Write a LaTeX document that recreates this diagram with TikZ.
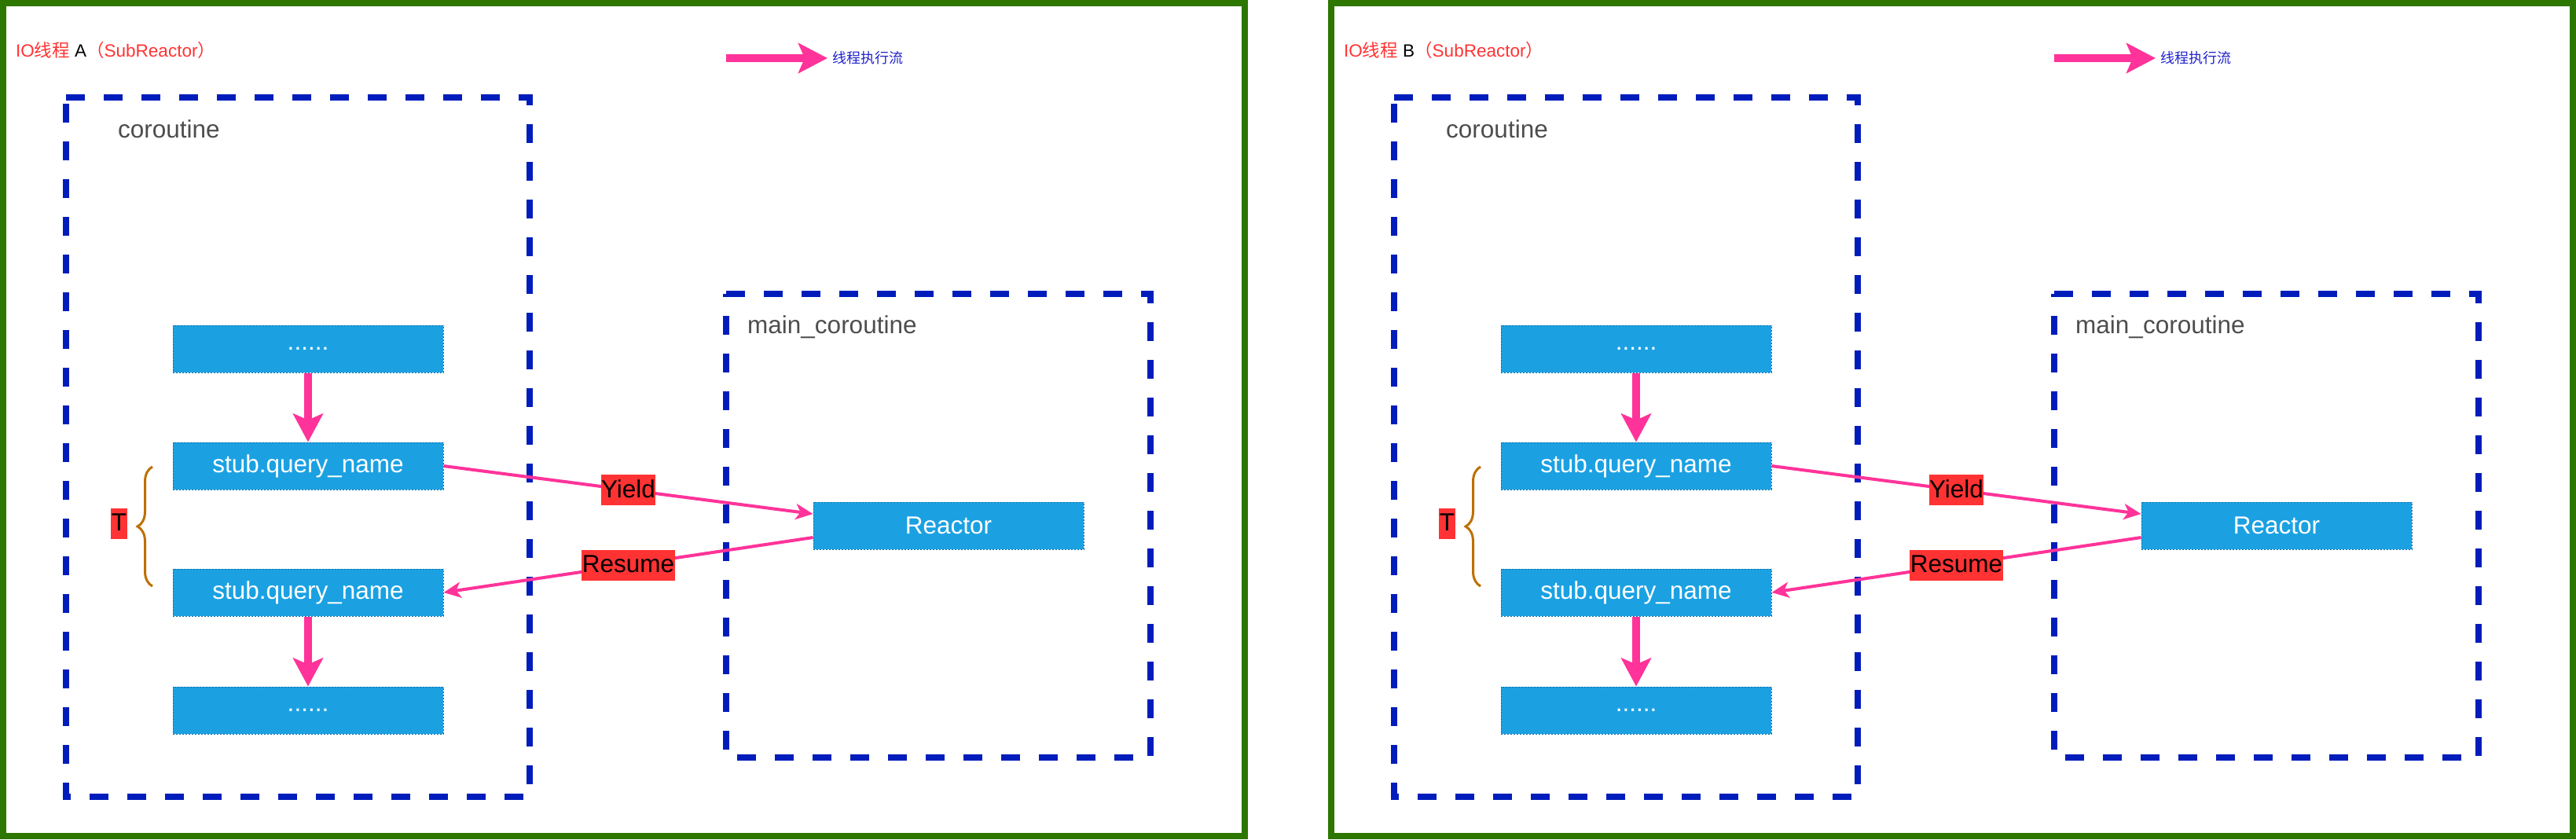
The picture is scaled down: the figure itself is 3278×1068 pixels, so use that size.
\documentclass[tikz,border=0pt]{standalone}
\usepackage{fontspec}
\setmainfont{Liberation Sans}
\newfontfamily\cjk{Noto Sans CJK SC}
\usetikzlibrary{arrows.meta,decorations.pathreplacing,calc}
\definecolor{framegreen}{HTML}{2D7600}
\definecolor{contblue}{HTML}{001DBC}
\definecolor{boxblue}{HTML}{1BA1E2}
\definecolor{boxedge}{HTML}{0E6FA8}
\definecolor{flowpink}{HTML}{FF3399}
\definecolor{titlered}{HTML}{FF3333}
\definecolor{braceorange}{HTML}{BD7000}
\definecolor{labelgray}{HTML}{4D4D4D}
\definecolor{legendblue}{HTML}{2222CC}
\begin{document}
\begin{tikzpicture}[x=1pt,y=-1pt,
  frame/.style={draw=framegreen,line width=8pt},
  container/.style={draw=contblue,line width=8pt,dash pattern=on 24pt off 24pt},
  stepbox/.style={rectangle,fill=boxblue,draw=boxedge,line width=1pt,dash pattern=on 2pt off 2pt,
    minimum width=344pt,minimum height=60pt,inner sep=0pt,text=white,
    font=\fontsize{31.5}{36}\selectfont},
  clabel/.style={inner sep=0pt,text=labelgray,font=\fontsize{31.5}{36}\selectfont},
  lbl/.style={fill=titlered,text=black,inner xsep=0.5pt,inner ysep=2pt,text height=27pt,text depth=8pt,
    font=\fontsize{31.5}{36}\selectfont},
  flowthick/.style={draw=flowpink,line width=10pt,-{Stealth[length=36pt,width=38pt,inset=8pt]}},
  flowthin/.style={draw=flowpink,line width=4pt,-{Stealth[length=22pt,width=20pt,inset=6pt]}},
  legendarrow/.style={draw=flowpink,line width=10pt,-{Stealth[length=37pt,width=38pt,inset=8pt]}},
  bracestyle/.style={draw=braceorange,line width=3pt,decorate,decoration={brace,amplitude=19pt}},
]
\useasboundingbox[fill=white] (0,0) rectangle (3278,1068);
\foreach \p/\dx/\L in {a/0/A,b/1690/B}{
\begin{scope}[xshift=\dx pt]
  % outer frame
  \draw[frame] (4,4) rectangle (1584,1064);
  % title
  \node[anchor=base west,inner sep=0pt,font=\fontsize{22.5}{27}\selectfont] (\p-title) at (20,72)
    {\color{titlered}IO{\cjk 线程} \color{black}\L\color{titlered}{\cjk （}SubReactor{\cjk ）}};
  % legend
  \coordinate (\p-lg1) at (924,74);
  \coordinate (\p-lg2) at (1053,74);
  \draw[legendarrow] (\p-lg1) -- (\p-lg2);
  \node[anchor=west,inner sep=0pt,text=legendblue,font=\cjk\fontsize{18}{22}\selectfont] (\p-lgt) at (1059,74) {线程执行流};
  % containers
  \draw[container] (84,124) -- (674,124) -- (674,1014) -- (84,1014) -- cycle;
  \node[clabel,anchor=base west] (\p-cl) at (150,175) {coroutine};
  \draw[container] (924,374) -- (1464,374) -- (1464,964) -- (924,964) -- cycle;
  \node[clabel,anchor=base west] (\p-ml) at (951,424) {main\_coroutine};
  % boxes
  \node[stepbox] (\p-top) at (392,444) {......};
  \node[stepbox] (\p-s1) at (392,593) {stub.query\_name};
  \node[stepbox] (\p-s2) at (392,754) {stub.query\_name};
  \node[stepbox] (\p-bot) at (392,904) {......};
  \node[stepbox] (\p-r) at (1207,669) {Reactor};
  % flows
  \draw[flowthick] (\p-top) -- (\p-s1);
  \draw[flowthick] (\p-s2) -- (\p-bot);
  \draw[flowthin] (\p-s1.east) -- node[lbl] (\p-yl) {Yield} ([yshift=15pt]\p-r.west);
  \draw[flowthin] ([yshift=-15pt]\p-r.west) -- node[lbl] (\p-rl) {Resume} (\p-s2.east);
  % brace and T
  \draw[bracestyle] (194,746) -- (194,594);
  \node[lbl] (\p-T) at (151.5,666) {T};
\end{scope}
}
\end{tikzpicture}
\end{document}
